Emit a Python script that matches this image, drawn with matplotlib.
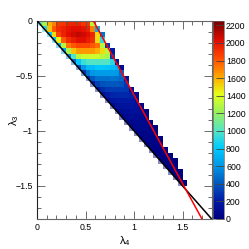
import numpy as np
from matplotlib import pyplot as plt
from matplotlib.colors import LinearSegmentedColormap

plt.rcParams['font.family'] = ['Liberation Sans', 'DejaVu Sans']
plt.rcParams['mathtext.default'] = 'regular'

# bin edges of the 2D histogram
x_edges = np.arange(0, 1.801, 0.05)
y_edges = np.arange(0, -1.801, -0.05)

# each row starts at column = row index
rows = [
    [1000, 1250, 1600, 1700, 1880, 1900, 1950, 1950, 1950, 1900, 1900, 1300],
    [900, 1550, 1800, 1920, 1960, 2000, 2030, 2030, 2000, 1960, 1700, 700],
    [800, 1500, 1850, 1960, 2020, 2060, 2090, 2060, 2020, 1950, 1500, 500],
    [800, 1450, 1800, 1920, 1980, 2020, 2020, 1980, 1920, 1500, 900],
    [700, 1300, 1720, 1800, 1840, 1840, 1840, 1800, 1750, 1300, 300],
    [650, 1250, 1550, 1650, 1650, 1650, 1650, 1600, 1500, 1300, 200],
    [550, 1000, 1300, 1350, 1350, 1350, 1350, 1300, 1250, 300],
    [450, 800, 950, 1000, 1000, 1000, 1000, 1000, 900, 150],
    [350, 600, 750, 750, 800, 800, 780, 750, 700, 100],
    [300, 500, 600, 620, 620, 620, 620, 600, 450],
    [250, 400, 480, 480, 480, 500, 480, 450, 150],
    [200, 320, 380, 400, 400, 400, 380, 300],
    [150, 260, 300, 310, 310, 310, 300, 120],
    [130, 200, 240, 250, 250, 250, 230, 80],
    [100, 170, 190, 200, 200, 190, 140],
    [80, 130, 150, 160, 160, 150, 60],
    [70, 100, 120, 130, 130, 110, 40],
    [60, 90, 100, 100, 90, 60],
    [50, 75, 80, 80, 70, 30],
    [40, 60, 65, 65, 50, 20],
    [35, 50, 50, 45, 25],
    [30, 40, 40, 35, 15],
    [25, 30, 30, 20],
    [20, 25, 25, 10],
    [15, 20, 12, 5],
    [12, 15, 8, 4],
    [10, 12, 5],
    [8, 6, 3],
    [5, 4],
    [3, 2],
]

black_x = [0, 1.8]
black_y = [0, -1.8]
red_x = [0.58, 1.70]
red_y = [0, -1.8]

z_ticks = list(range(0, 2201, 200))

cmap = LinearSegmentedColormap.from_list('root', [
    (0.0, (0, 0, 0.5)),
    (0.09, (0, 0.1, 0.65)),
    (0.18, (0, 0.35, 0.75)),
    (0.27, (0, 0.6, 0.9)),
    (0.36, (0, 0.8, 1.0)),
    (0.45, (0.35, 0.9, 0.75)),
    (0.54, (0.6, 0.95, 0.35)),
    (0.63, (0.9, 1.0, 0.1)),
    (0.72, (1.0, 0.65, 0)),
    (0.81, (1.0, 0.3, 0)),
    (0.90, (0.88, 0.05, 0)),
    (1.0, (0.45, 0, 0)),
])

z = np.full((36, 36), np.nan)
for i, r in enumerate(rows):
    z[i, i:i + len(r)] = r

W = 249.0
fig = plt.figure(figsize=(2.49, 2.49), dpi=100)
ax = fig.add_axes([37 / W, 1 - 219 / W, 174.7 / W, 198.3 / W])
cax = fig.add_axes([212.7 / W, 1 - 219 / W, 11.3 / W, 198.3 / W])

mesh = ax.pcolormesh(x_edges, y_edges, z, cmap=cmap, vmin=0, vmax=2253)
# the bits of cell under the black line look washed out
ax.fill_between(black_x, black_y, -1.8, color='white', alpha=0.55, lw=0, zorder=1.5)
ax.plot(black_x, black_y, color='black', lw=1.1, zorder=3)
ax.plot(red_x, red_y, color='red', lw=1.1, zorder=3)
ax.set_xlim(0, 1.8)
ax.set_ylim(-1.8, 0)

ax.set_xticks([0, 0.5, 1, 1.5])
ax.set_xticklabels(['0', '0.5', '1', '1.5'])
ax.set_yticks([0, -0.5, -1, -1.5])
ax.set_yticklabels(['0', '\u22120.5', '\u22121', '\u22121.5'])
ax.set_xticks(np.arange(0, 1.81, 0.1), minor=True)
ax.set_yticks(np.arange(-1.8, 0.01, 0.1), minor=True)
ax.tick_params(which='major', direction='in', top=True, right=True, length=6,
               width=0.6, color='#555555', labelsize=6.3, pad=3)
ax.tick_params(which='minor', direction='in', top=True, right=True, length=3,
               width=0.6, color='#555555')
for s in ax.spines.values():
    s.set_linewidth(0.8)
    s.set_color('#666666')
ax.spines['left'].set_color('#222222')

ax.text(125 / W, 1 - 241 / W, '\u03bb$_4$', transform=fig.transFigure, fontsize=8,
        ha='center', va='center')
ax.text(14 / W, 1 - 120 / W, '\u03bb$_3$', transform=fig.transFigure, fontsize=8,
        ha='center', va='center', rotation=90)

cb = fig.colorbar(mesh, cax=cax)
cb.set_ticks(z_ticks)
cb.ax.tick_params(direction='in', length=6, width=0.6, color='#444444', labelsize=6.3, pad=1.5)
cb.outline.set_linewidth(0.5)
cb.outline.set_edgecolor('#666666')

fig.savefig('out.png', dpi=100)
